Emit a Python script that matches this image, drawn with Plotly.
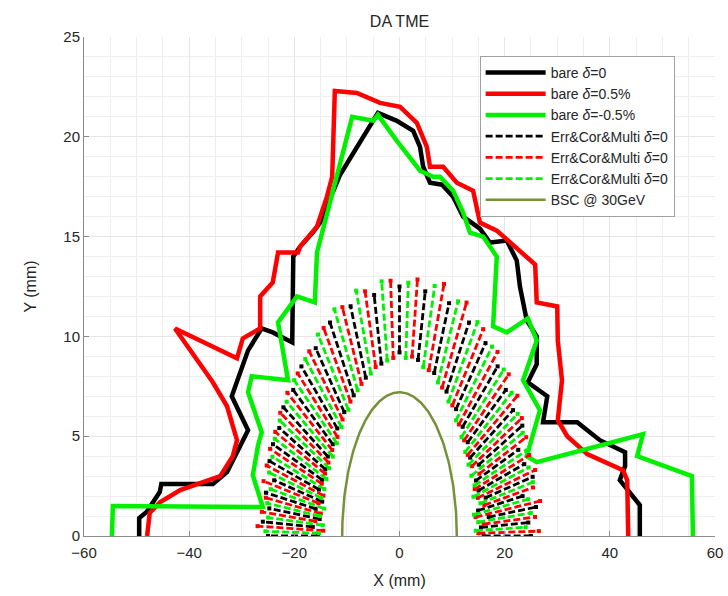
import numpy as np
import plotly.graph_objects as go

# ---------------- data (mm) ----------------
# bare lattice, delta = 0
bare0_x = [-49.5, -49.5, -48.1, -45.6, -45.3, -35.5, -32.8, -30.7, -28.8, -31.9, -30.3, -28.8,
           -26.2, -24.1, -20.4, -20.2, -18.9, -16.5, -15.1, -11.3, -4.1, -0.5, 2.6, 3.9, 4.5,
           5.8, 8.1, 10.2, 12.1, 15.3, 17.2, 20.4, 22.3, 22.9, 24.2, 26.1, 26.1, 24.4, 28.1,
           27.3, 33.8, 38.1, 42.9, 42.9, 41.9, 45.7, 45.7]
bare0_y = [0.0, 0.9, 1.2, 2.2, 2.6, 2.6, 3.2, 4.3, 5.3, 7.0, 8.2, 9.3,
           10.4, 10.2, 9.7, 14.0, 14.5, 15.2, 15.7, 18.1, 21.2, 20.8, 20.3, 19.5, 18.5,
           17.7, 17.6, 17.0, 16.0, 15.4, 14.7, 14.8, 13.8, 12.5, 10.8, 10.0, 8.6, 7.7, 7.0,
           5.7, 5.7, 4.8, 4.2, 3.5, 2.8, 1.55, 0.0]

# bare lattice, delta = +0.5%
bare_p_x = [-48.0, -47.5, -45.5, -41.7, -34.1, -31.7, -30.9, -32.8, -35.5, -39.8, -42.7, -30.9,
            -29.8, -26.5, -26.5, -24.1, -23.1, -19.3, -18.9, -15.7, -13.8, -12.8, -12.3, -8.1,
            -3.7, 0.1, 3.3, 5.2, 5.8, 8.3, 10.9, 14.0, 15.3, 18.5, 21.0, 25.8, 26.1, 30.0,
            30.1, 30.9, 30.1, 31.9, 35.7, 42.5, 43.3, 43.5]
bare_p_y = [0.0, 1.15, 1.7, 2.3, 3.0, 4.0, 4.8, 6.5, 7.7, 9.3, 10.4, 8.9,
            9.9, 10.4, 12.0, 12.7, 14.2, 14.2, 14.5, 15.5, 17.0, 18.0, 22.3, 22.2,
            21.7, 21.5, 20.7, 19.5, 18.5, 18.5, 17.7, 17.3, 15.7, 15.3, 14.7, 13.6, 11.7, 11.5,
            9.8, 7.8, 5.8, 5.0, 4.1, 3.3, 2.8, 0.0]

# bare lattice, delta = -0.5%
bare_m_x = [-54.7, -54.5, -26.0, -27.9, -26.9, -26.2, -28.8, -28.1, -21.2, -23.1, -19.5, -16.1,
            -15.7, -12.6, -9.0, -5.0, -4.1, -0.5, 3.9, 6.4, 7.7, 10.2, 12.1, 13.4, 15.9, 18.5,
            17.8, 20.4, 24.4, 26.1, 23.5, 26.7, 24.2, 26.1, 46.3, 45.2, 55.6, 55.8]
bare_m_y = [0.0, 1.5, 1.45, 3.05, 4.55, 5.2, 7.2, 8.0, 7.8, 10.7, 12.0, 11.7,
            14.2, 17.3, 21.0, 20.8, 21.1, 19.8, 18.3, 18.0, 18.0, 17.3, 16.2, 15.2, 15.0, 14.0,
            10.5, 10.2, 10.9, 9.8, 7.8, 6.3, 4.0, 3.7, 5.1, 4.0, 3.0, 0.0]

# Err&Cor&Multi scans: ray angle (deg) and surviving radial range (mm)
err_k_ang = [0, 1.58, 3.20, 4.88, 6.68, 8.63, 10.82, 13.32, 16.28, 19.90, 24.49, 30.57, 38.99,
             51.05, 68.22, 90, 111.78, 128.95, 141.01, 149.43, 155.51, 160.10, 163.72, 166.68,
             169.18, 171.37, 173.32, 175.12, 176.80, 178.42, 180]
err_k_rin = [16, 15.5, 17, 15, 16.5, 15.2, 14.8, 15.5, 14, 13.8, 13.2, 12.5, 11.5,
             10.5, 9.5, 9.2, 9.3, 10.2, 11.2, 12.2, 13, 13.5, 14.2, 14.5,
             15, 15.5, 14.8, 16, 15.2, 16.5, 15.5]
err_k_rout = [25, 24.5, 26, 23.5, 25.5, 24, 23, 24, 22.5, 21.5, 20.5, 19, 17,
              15, 13.2, 12.5, 13, 14.8, 17, 18.5, 20.5, 21.5, 23, 23.5,
              24.5, 25, 24, 25.5, 24.8, 26, 25]

err_r_ang = [0.53, 2.12, 3.75, 5.47, 7.31, 9.33, 11.61, 14.25, 17.40, 21.30, 26.32, 33.06,
             42.53, 56.16, 75.11, 97.56, 118.12, 133.47, 144.15, 151.67, 157.18, 161.40,
             164.77, 167.55, 169.94, 172.04, 173.93, 175.69, 177.35, 178.95]
err_r_rin = [15, 16, 14.5, 16.2, 15, 14.5, 15.5, 14.2, 13.6, 13.2, 12.6, 12,
             11, 10, 9.3, 9, 9.6, 10.5, 11.5, 12.3, 12.8, 13.5,
             14, 14.5, 15, 14.6, 15.5, 15, 16, 14.5]
err_r_rout = [26.5, 25.8, 26.8, 25.5, 26, 25, 24.6, 24, 23.5, 22.3, 20.8, 19,
              17.3, 15.2, 13.3, 12.9, 13.9, 15.8, 17.8, 19.5, 21, 22.5,
              23.5, 24.2, 25, 25.5, 26, 25.5, 26.2, 27]

err_g_ang = [1.05, 2.65, 4.31, 6.07, 7.96, 10.06, 12.45, 15.23, 18.60, 22.82, 28.33, 35.85,
             46.53, 61.88, 82.44, 104.89, 123.84, 137.47, 146.94, 153.68, 158.70, 162.60,
             165.75, 168.39, 170.67, 172.69, 174.53, 176.25, 177.88, 179.47]
err_g_rin = [14.5, 15, 14.2, 15.5, 14.2, 14.5, 14, 13.6, 13.2, 12.8, 12.2, 11.5,
             10.6, 9.6, 9, 9.1, 9.8, 10.8, 11.6, 12.3, 12.8, 13.3,
             13.8, 14.2, 14.5, 15, 14.4, 15.2, 14.6, 15.3]
err_g_rout = [24, 25, 24.5, 25.5, 24.8, 24.5, 24, 23.3, 22.5, 21.5, 20, 18.3,
              16.2, 14.2, 12.8, 13.2, 14.8, 16.8, 18.5, 20, 21.5, 22.5,
              23.5, 24.2, 24.5, 25, 24.6, 25.2, 25, 25.5]

# beam stay clear ellipse @ 30 GeV (mm)
bsc_half_width = 10.9
bsc_half_height = 7.2

# ---------------- styles ----------------
FONT = "Liberation Sans, Arial, sans-serif"
BLACK, RED, GREEN, OLIVE = "#000000", "#ff0000", "#00f000", "#77913a"


def rays(ang, rin, rout):
    xs, ys = [], []
    for a, r1, r2 in zip(ang, rin, rout):
        t = np.radians(a)
        xs += [r1 * np.cos(t), r2 * np.cos(t), None]
        ys += [r1 * np.sin(t), r2 * np.sin(t), None]
    return xs, ys


fig = go.Figure()

for name, xs, ys, col in [("bare <i>δ</i>=0", bare0_x, bare0_y, BLACK),
                          ("bare <i>δ</i>=0.5%", bare_p_x, bare_p_y, RED),
                          ("bare <i>δ</i>=-0.5%", bare_m_x, bare_m_y, GREEN)]:
    fig.add_trace(go.Scatter(x=xs, y=ys, mode="lines", name=name,
                             line=dict(color=col, width=4.5)))

for ang, rin, rout, col in [(err_k_ang, err_k_rin, err_k_rout, BLACK),
                            (err_r_ang, err_r_rin, err_r_rout, RED),
                            (err_g_ang, err_g_rin, err_g_rout, GREEN)]:
    xs, ys = rays(ang, rin, rout)
    fig.add_trace(go.Scatter(x=xs, y=ys, mode="lines", name="Err&Cor&Multi <i>δ</i>=0",
                             line=dict(color=col, width=2.8, dash="7px,3px")))
    fig.add_trace(go.Scatter(x=xs, y=ys, mode="markers", showlegend=False, hoverinfo="skip",
                             marker=dict(color=col, size=4, symbol="square")))

tt = np.linspace(0, np.pi, 181)
fig.add_trace(go.Scatter(x=bsc_half_width * np.cos(tt), y=bsc_half_height * np.sin(tt),
                         mode="lines", name="BSC @ 30GeV",
                         line=dict(color=OLIVE, width=2.5)))

axis_common = dict(showline=True, linecolor="#8c8c8c", linewidth=1, mirror=False,
                   ticks="inside", ticklen=5, tickcolor="#8c8c8c", automargin=False,
                   showgrid=True, gridcolor="#e6e6e6", gridwidth=1, zeroline=False,
                   tickfont=dict(family=FONT, size=15, color="#262626"))

fig.update_layout(
    width=728, height=596,
    margin=dict(l=84, r=13, t=37, b=60),
    paper_bgcolor="white", plot_bgcolor="white",
    font=dict(family=FONT, color="#262626"),
    title=dict(text="DA TME", x=0.5, xref="paper", y=1 - 21 / 596, yref="container",
               xanchor="center", yanchor="middle",
               font=dict(family=FONT, size=16, color="#262626")),
    xaxis=dict(range=[-60, 60], tickmode="array", tickvals=[-60, -40, -20, 0, 20, 40, 60],
               minor=dict(dtick=5, showgrid=True, gridcolor="#eeeeee", ticks=""),
               ticklabelstandoff=3,
               title=dict(text="X (mm)", standoff=14,
                          font=dict(family=FONT, size=16, color="#262626")),
               **axis_common),
    yaxis=dict(range=[0, 25], tickmode="array", tickvals=[0, 5, 10, 15, 20, 25],
               minor=dict(dtick=1, showgrid=True, gridcolor="#eeeeee", ticks=""),
               title=dict(text="Y (mm)", standoff=22,
                          font=dict(family=FONT, size=16, color="#262626")),
               **axis_common),
    legend=dict(x=0.627, y=0.962, xanchor="left", yanchor="top",
                bgcolor="white", bordercolor="#a0a0a0", borderwidth=1,
                font=dict(family=FONT, size=14, color="#262626"),
                itemwidth=60, tracegroupgap=0),
    showlegend=True,
)

fig.write_html("out.html", config={"displayModeBar": False},
               post_script="document.body.style.margin='0';")
